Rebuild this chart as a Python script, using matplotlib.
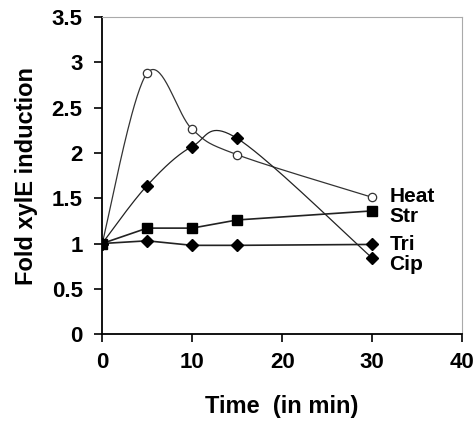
import matplotlib.pyplot as plt
import numpy as np

time = [0, 5, 10, 15, 30]
heat = [1.0, 2.88, 2.26, 1.98, 1.51]
cip = [1.0, 1.64, 2.07, 2.16, 0.84]
strep = [1.0, 1.17, 1.17, 1.26, 1.36]
tri = [1.0, 1.03, 0.98, 0.98, 0.99]
labels = ["Heat", "Str", "Tri", "Cip"]
label_y = [1.46, 1.24, 0.93, 0.71]


# excel-like smoothed line (catmull-rom through bezier segments)
def smooth(x, y, n=40):
    p = np.column_stack([x, y]).astype(float)
    p = np.vstack([p[0], p, p[-1]])
    out = []
    for i in range(1, len(p) - 2):
        p0, p1, p2, p3 = p[i - 1], p[i], p[i + 1], p[i + 2]
        c1 = p1 + (p2 - p0) / 6
        c2 = p2 - (p3 - p1) / 6
        t = np.linspace(0, 1, n)[:, None]
        seg = (1 - t) ** 3 * p1 + 3 * (1 - t) ** 2 * t * c1 + 3 * (1 - t) * t ** 2 * c2 + t ** 3 * p2
        out.append(seg)
    s = np.vstack(out)
    return s[:, 0], s[:, 1]


plt.rcParams['font.family'] = ['Liberation Sans', 'DejaVu Sans']
plt.rcParams['font.weight'] = 'bold'

fig = plt.figure(figsize=(4.75, 4.23), dpi=100)
ax = fig.add_axes([0.215, 0.21, 0.758, 0.75])

sx, sy = smooth(time, heat)
ax.plot(sx, sy, color='#333333', lw=0.9)
ax.plot(time, heat, 'o', ms=6, mfc='white', mec='#333333', mew=0.9)

sx, sy = smooth(time, cip)
ax.plot(sx, sy, color='#222222', lw=0.9)
ax.plot(time, cip, 'D', ms=6.5, color='black')

ax.plot(time, strep, color='#222222', lw=1.2)
ax.plot(time, strep, 's', ms=7, color='black')

ax.plot(time, tri, color='#222222', lw=1.2)
ax.plot(time, tri, 'D', ms=6, color='black')

for lab, ly in zip(labels, label_y):
    ax.text(31.9, ly, lab, fontsize=15, fontweight='bold', va='baseline', ha='left')

ax.set_xlim(0, 40)
ax.set_ylim(0, 3.5)
ax.set_xticks([0, 10, 20, 30, 40])
ax.set_yticks([0, 0.5, 1, 1.5, 2, 2.5, 3, 3.5])
ax.set_yticklabels(['0', '0.5', '1', '1.5', '2', '2.5', '3', '3.5'])
ax.tick_params(axis='both', direction='out', length=6, width=1.2, labelsize=16)
ax.tick_params(axis='x', pad=7)
ax.tick_params(axis='y', pad=8)
for s in ['top', 'right']:
    ax.spines[s].set_color('#aaaaaa')
    ax.spines[s].set_linewidth(0.8)
for s in ['left', 'bottom']:
    ax.spines[s].set_linewidth(1.3)
ax.set_xlabel('Time  (in min)', fontsize=17, fontweight='bold', labelpad=16)
ax.set_ylabel('Fold xylE induction', fontsize=17, fontweight='bold', labelpad=10)
ax.patch.set_alpha(0)

fig.savefig('out.png', dpi=100)
